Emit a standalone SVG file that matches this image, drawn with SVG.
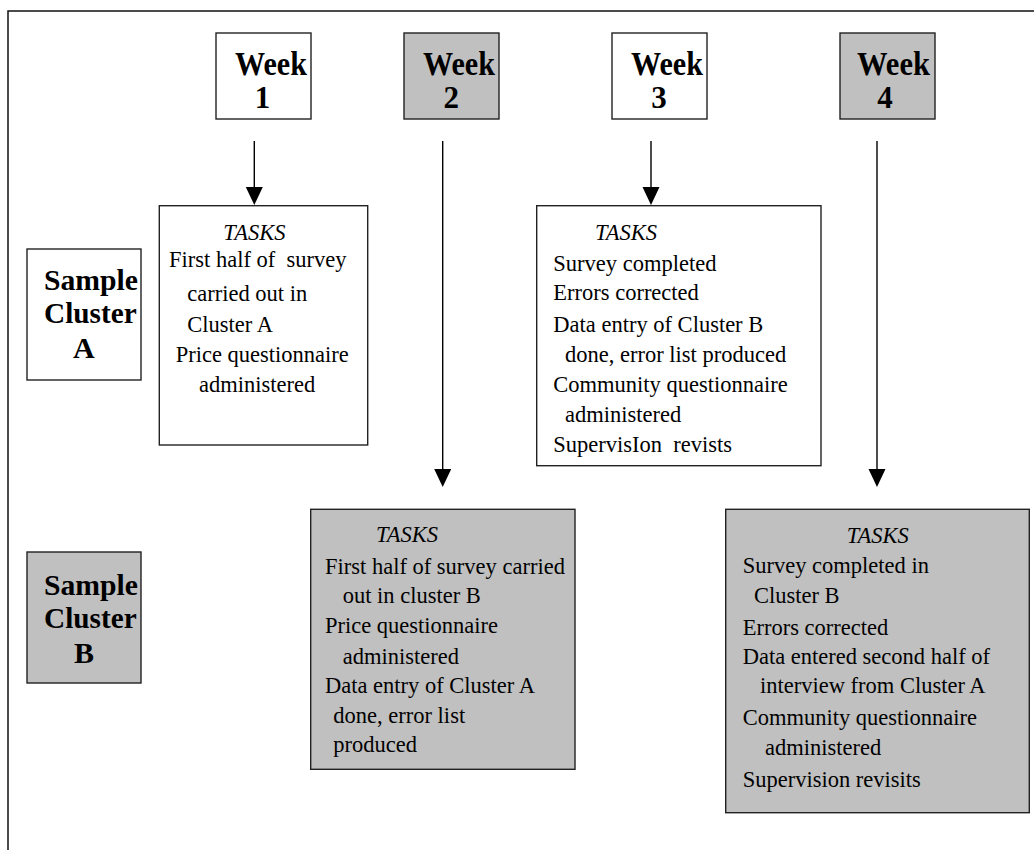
<svg xmlns="http://www.w3.org/2000/svg" width="1034" height="850" viewBox="0 0 1034 850">
<defs>
<style>
.box{stroke:#222;stroke-width:1.4}
.w{fill:#fff}
.g{fill:#c0c0c0}
.wk{font-family:"Liberation Serif","Times New Roman",serif;font-weight:bold;font-size:33px;fill:#000}
.num{font-family:"Liberation Serif","Times New Roman",serif;font-weight:bold;font-size:31px;fill:#000;text-anchor:middle}
.sc{font-family:"Liberation Serif","Times New Roman",serif;font-weight:bold;font-size:30px;fill:#000}
.t{font-family:"Liberation Serif","Times New Roman",serif;font-size:22.5px;fill:#000;white-space:pre}
.ti{font-family:"Liberation Serif","Times New Roman",serif;font-style:italic;font-size:22.5px;fill:#000}
.conn{stroke:#000;stroke-width:1.4;fill:none}
</style>
<marker id="ah" markerUnits="userSpaceOnUse" markerWidth="20" markerHeight="20" refX="10" refY="8.5" orient="auto">
<path d="M0,0 L18,8.5 L0,17 Z" fill="#000"/>
</marker>
</defs>
<rect x="0" y="0" width="1034" height="850" fill="#fff"/>
<rect id="frame" x="8" y="11" width="1040" height="860" fill="none" stroke="#111" stroke-width="1.5"/>

<g id="week1">
<rect class="box w" x="216" y="33" width="95" height="86"/>
<text class="wk" x="235" y="75" textLength="72" lengthAdjust="spacingAndGlyphs">Week</text>
<text class="num" x="262.5" y="108">1</text>
</g>
<g id="week2">
<rect class="box g" x="404" y="33" width="95" height="86"/>
<text class="wk" x="423" y="75" textLength="72" lengthAdjust="spacingAndGlyphs">Week</text>
<text class="num" x="451.3" y="108">2</text>
</g>
<g id="week3">
<rect class="box w" x="612" y="33" width="95" height="86"/>
<text class="wk" x="631" y="75" textLength="72" lengthAdjust="spacingAndGlyphs">Week</text>
<text class="num" x="659" y="108">3</text>
</g>
<g id="week4">
<rect class="box g" x="840" y="33" width="95" height="86"/>
<text class="wk" x="857" y="75" textLength="73" lengthAdjust="spacingAndGlyphs">Week</text>
<text class="num" x="885" y="108">4</text>
</g>

<g id="clusterA">
<rect class="box w" x="27" y="249" width="114" height="131"/>
<text class="sc" x="44" y="290" textLength="94" lengthAdjust="spacingAndGlyphs">Sample</text>
<text class="sc" x="44" y="323.3" textLength="92.7" lengthAdjust="spacingAndGlyphs">Cluster</text>
<text class="sc" x="73" y="358.3">A</text>
</g>
<g id="clusterB">
<rect class="box g" x="27" y="552" width="114" height="131"/>
<text class="sc" x="44" y="595" textLength="94" lengthAdjust="spacingAndGlyphs">Sample</text>
<text class="sc" x="44" y="627.7" textLength="92.7" lengthAdjust="spacingAndGlyphs">Cluster</text>
<text class="sc" x="74" y="662.7">B</text>
</g>

<g id="tasks1">
<rect class="box w" x="159.3" y="205.7" width="208.4" height="239.3"/>
<text class="ti" x="223.3" y="240">TASKS</text>
<text class="t" x="169" y="267">First half of  survey</text>
<text class="t" x="187.3" y="300.5">carried out in</text>
<text class="t" x="187.3" y="331.7">Cluster A</text>
<text class="t" x="175.7" y="361.7">Price questionnaire</text>
<text class="t" x="199" y="391.7">administered</text>
</g>

<g id="tasks3">
<rect class="box w" x="536.7" y="205.7" width="284.3" height="260"/>
<text class="ti" x="595" y="240">TASKS</text>
<text class="t" x="553.3" y="270.7">Survey completed</text>
<text class="t" x="553.3" y="300">Errors corrected</text>
<text class="t" x="553.3" y="331.7">Data entry of Cluster B</text>
<text class="t" x="565" y="361.7">done, error list produced</text>
<text class="t" x="553.3" y="391.7">Community questionnaire</text>
<text class="t" x="565" y="422.3">administered</text>
<text class="t" x="553.3" y="451.7">SupervisIon  revists</text>
</g>

<g id="tasks2">
<rect class="box g" x="310.7" y="509.3" width="264.3" height="260"/>
<text class="ti" x="376" y="541.7">TASKS</text>
<text class="t" x="325" y="574.3">First half of survey carried</text>
<text class="t" x="342.7" y="603.3">out in cluster B</text>
<text class="t" x="325" y="633.3">Price questionnaire</text>
<text class="t" x="342.7" y="664.3">administered</text>
<text class="t" x="325" y="693.3">Data entry of Cluster A</text>
<text class="t" x="333.3" y="723.3">done, error list</text>
<text class="t" x="333.3" y="751.7">produced</text>
</g>

<g id="tasks4">
<rect class="box g" x="725.7" y="509.3" width="303.6" height="303.4"/>
<text class="ti" x="846.7" y="542.7">TASKS</text>
<text class="t" x="742.7" y="573.3">Survey completed in</text>
<text class="t" x="754" y="603.3">Cluster B</text>
<text class="t" x="742.7" y="635">Errors corrected</text>
<text class="t" x="742.7" y="664.3">Data entered second half of</text>
<text class="t" x="760" y="693.3">interview from Cluster A</text>
<text class="t" x="742.7" y="725">Community questionnaire</text>
<text class="t" x="765" y="755">administered</text>
<text class="t" x="742.7" y="786.7">Supervision revisits</text>
</g>

<g id="connectors">
<line class="conn" x1="254.3" y1="141" x2="254.3" y2="197" marker-end="url(#ah)"/>
<line class="conn" x1="442.7" y1="141" x2="442.7" y2="479" marker-end="url(#ah)"/>
<line class="conn" x1="651" y1="141" x2="651" y2="197" marker-end="url(#ah)"/>
<line class="conn" x1="877" y1="141" x2="877" y2="479" marker-end="url(#ah)"/>
</g>
</svg>
